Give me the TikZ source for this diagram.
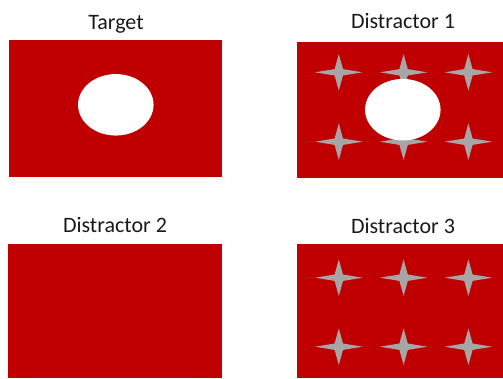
\documentclass[tikz,border=0pt]{standalone}
\usepackage{fontspec}
\setmainfont{Carlito}
\usetikzlibrary{shapes.geometric}
\definecolor{panelred}{HTML}{C00000}
\definecolor{stargrey}{HTML}{A6A6A6}
\tikzset{
  panel/.style={fill=panelred, draw=none, inner sep=0pt, anchor=north west},
  title/.style={anchor=base, font=\fontsize{22}{26}\selectfont, text=black!90, inner sep=0pt},
  hole/.style={ellipse, fill=white, draw=none, inner sep=0pt, minimum width=75.5pt, minimum height=61.5pt},
  sparkle/.pic={\fill[stargrey] (0,-18.3) -- (4.2,-3.2) -- (23.8,0) -- (4.2,3.2) -- (0,18.3)
      -- (-4.2,3.2) -- (-23.8,0) -- (-4.2,-3.2) -- cycle;}
}
\begin{document}
\begin{tikzpicture}[x=1pt,y=-1pt]
\useasboundingbox (0,0) rectangle (503,378);
% Target
\node[title] (t0) at (116,29.3) {Target};
\node[panel, minimum width=213pt, minimum height=137pt] (p0) at (9,40) {};
\node[hole] (h0) at (115.8,104.8) {};
% Distractor 1
\node[title] (t1) at (403,28.3) {Distractor 1};
\node[panel, minimum width=206.3pt, minimum height=136.7pt] (p1) at (296.7,41.3) {};
\foreach \sx/\sy [count=\i] in {338.8/72.3, 403.6/72.3, 468.4/72.3, 338.8/141.7, 403.6/141.7, 468.4/141.7}
  \pic (sa\i) at (\sx,\sy) {sparkle};
\node[hole] (h1) at (402.8,109.7) {};
% Distractor 2
\node[title] (t2) at (115,232.7) {Distractor 2};
\node[panel, minimum width=213.7pt, minimum height=134pt] (p2) at (8,244) {};
% Distractor 3
\node[title] (t3) at (403,233.3) {Distractor 3};
\node[panel, minimum width=206.3pt, minimum height=134pt] (p3) at (296.7,244) {};
\foreach \sx/\sy [count=\i] in {338.8/277.7, 403.6/277.7, 468.4/277.7, 338.8/346.7, 403.6/346.7, 468.4/346.7}
  \pic (sb\i) at (\sx,\sy) {sparkle};
\end{tikzpicture}
\end{document}
